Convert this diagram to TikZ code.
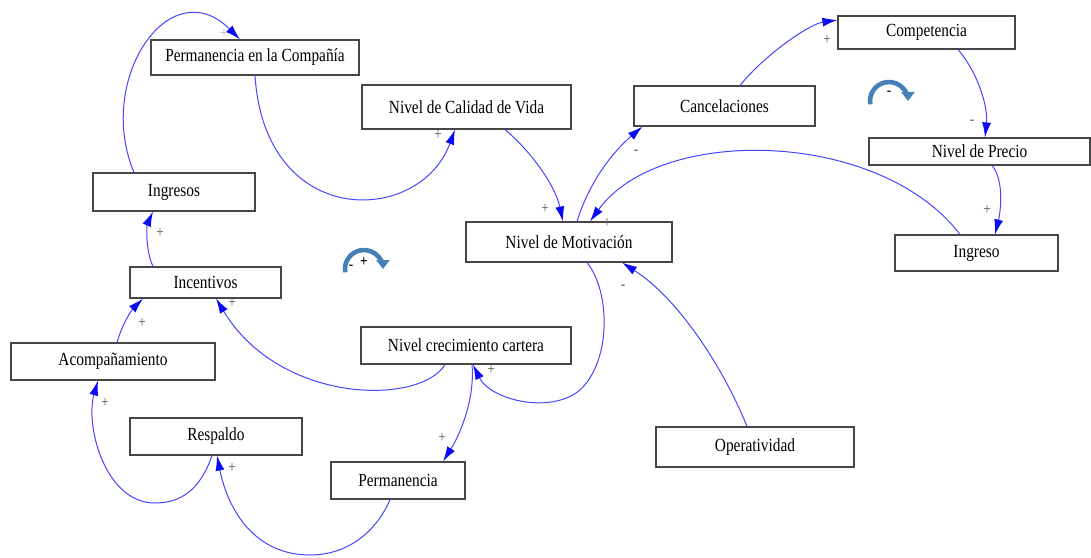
\documentclass[tikz,border=0pt]{standalone}
\usepackage{fontspec}
\setmainfont{Liberation Serif}[FakeStretch=0.83]
\usetikzlibrary{arrows.meta,shadows}

\definecolor{linkblue}{RGB}{70,70,255}
\definecolor{tipblue}{RGB}{10,10,245}
\definecolor{boxline}{RGB}{70,70,70}
\definecolor{loopblue}{RGB}{70,128,185}
\definecolor{signgray}{RGB}{85,85,85}

\tikzset{
  var/.style={draw=boxline, line width=1.1pt, fill=white, inner sep=0pt,
    font=\fontsize{18.5}{20}\selectfont,
    drop shadow={shadow xshift=1.2pt, shadow yshift=-1.2pt, fill=gray!55, opacity=1}},
  link/.style={draw=linkblue, line width=1pt,
    -{Latex[length=15pt,width=9pt,color=tipblue]}},
  sign/.style={text=signgray, font=\fontsize{16}{16}\selectfont, inner sep=0pt},
  loopsym/.style={draw=loopblue, line width=4.6pt,
    -{Triangle[length=9pt,width=13pt,color=loopblue]}},
}

\begin{document}
\begin{tikzpicture}[x=1pt,y=-1pt]
\useasboundingbox[fill=white] (0,0) rectangle (1091,557);

% variables
\node[var, minimum width=208pt, minimum height=35pt] (pc)   at (255,57.5)   {Permanencia en la Compañía};
\node[var, minimum width=209pt, minimum height=44pt] (cv)   at (466.5,107)  {Nivel de Calidad de Vida};
\node[var, minimum width=181pt, minimum height=40pt] (can)  at (724.5,106)  {Cancelaciones};
\node[var, minimum width=177pt, minimum height=33pt] (comp) at (926.5,32.5) {Competencia};
\node[var, minimum width=221pt, minimum height=27pt] (np)   at (979.5,151.5){Nivel de Precio};
\node[var, minimum width=163pt, minimum height=36pt] (ing)  at (976.5,253)  {Ingreso};
\node[var, minimum width=162pt, minimum height=38pt] (ings) at (174,192)    {Ingresos};
\node[var, minimum width=206pt, minimum height=40pt] (mot)  at (569,242)    {Nivel de Motivación};
\node[var, minimum width=151pt, minimum height=31pt] (inc)  at (205.5,282.5){Incentivos};
\node[var, minimum width=210pt, minimum height=37pt] (ncc)  at (466,345.5)  {Nivel crecimiento cartera};
\node[var, minimum width=204pt, minimum height=37pt] (aco)  at (113,361.5)  {Acompañamiento};
\node[var, minimum width=172pt, minimum height=37pt] (res)  at (216,436.5)  {Respaldo};
\node[var, minimum width=134pt, minimum height=37pt] (per)  at (398,480.5)  {Permanencia};
\node[var, minimum width=198pt, minimum height=40pt] (ope)  at (755,447)    {Operatividad};

% causal links
\draw[link] ([xshift=-40pt]ings.north) .. controls +(-39,-93) and +(-70,-70) .. ([xshift=-15pt]pc.north);
\draw[link] (pc.south) .. controls +(10,155) and +(-35,96) .. ([xshift=-11.5pt]cv.south);
\draw[link] ([xshift=38.5pt]cv.south) .. controls +(25,21) and +(-8,-37) .. ([xshift=-6pt]mot.north);
\draw[link] ([xshift=8pt]mot.north) .. controls +(13,-42) and +(-28,24) .. ([xshift=9pt]can.south west);
\draw[link] ([xshift=15.5pt]can.north) .. controls +(25,-31) and +(-28,4) .. ([yshift=12.5pt]comp.west);
\draw[link] ([xshift=31.5pt]comp.south) .. controls +(22,26) and +(3,-28) .. ([xshift=5.5pt]np.north);
\draw[link] ([xshift=12.5pt]np.south) .. controls +(13,15) and +(5,-20) .. ([xshift=18.5pt]ing.north);
\draw[link] ([xshift=-16.5pt]ing.north) .. controls +(-80,-105) and +(70,-97) .. ([xshift=21pt]mot.north);
\draw[link] ([xshift=18pt]mot.south) .. controls +(23,28) and (612,360) .. (580,390)
            .. controls (550,415) and +(17,35) .. ([xshift=7pt]ncc.south);
\draw[link] ([xshift=-8pt]ope.north) .. controls +(-22,-55) and +(58,37) .. ([xshift=53pt]mot.south);
\draw[link] ([xshift=-21pt]ncc.south) .. controls +(-25,41) and +(64,106) .. ([xshift=10.5pt]inc.south);
\draw[link] ([xshift=-52.5pt]inc.north) .. controls +(-8,-17) and +(-6,13) .. ([xshift=-21pt]ings.south);
\draw[link] ([xshift=4pt]aco.north) .. controls +(5,-18) and +(-11,11) .. ([xshift=-62.5pt]inc.south);
\draw[link] ([xshift=-4pt]res.south) .. controls +(-12,35) and (180,503) .. (155,503)
            .. controls (105,503) and +(-13,45) .. ([xshift=-15pt]aco.south);
\draw[link] ([xshift=6pt]ncc.south) .. controls +(3,35) and +(17,-27) .. ([xshift=45pt]per.north);
\draw[link] ([xshift=-8pt]per.south) .. controls +(-15,35) and (345,555) .. (310,555)
            .. controls (255,555) and +(11,55) .. ([xshift=1pt]res.south);

% polarity signs
\node[sign, text=signgray!45] (s1) at (224,34) {+};
\node[sign] (s2)  at (438,135) {+};
\node[sign] (s3)  at (545,209) {+};
\node[sign] (s4)  at (636,152) {-};
\node[sign] (s5)  at (827,40)  {+};
\node[sign] (s6)  at (972,122) {-};
\node[sign] (s7)  at (987,210) {+};
\node[sign] (s8)  at (607,223) {+};
\node[sign] (s9)  at (491,370) {+};
\node[sign] (s10) at (623,287) {-};
\node[sign] (s11) at (232,303) {+};
\node[sign] (s12) at (160,233) {+};
\node[sign] (s13) at (142,323) {+};
\node[sign] (s14) at (105,403) {+};
\node[sign] (s15) at (442,438) {+};
\node[sign] (s16) at (232,468) {+};

% loop markers
\coordinate (l1) at (364,269);
\draw[loopsym] (l1) ++(170:19) arc[start angle=170, end angle=360, radius=19];
\node[sign, text=black] (l1m) at (351,267) {-};
\node[font=\bfseries\fontsize{16}{16}\selectfont, inner sep=0pt] (l1p) at (364,262) {+};

\coordinate (l2) at (889,101);
\draw[loopsym] (l2) ++(170:19) arc[start angle=170, end angle=360, radius=19];
\node[sign, text=black] (l2m) at (889,93) {-};
\end{tikzpicture}
\end{document}
